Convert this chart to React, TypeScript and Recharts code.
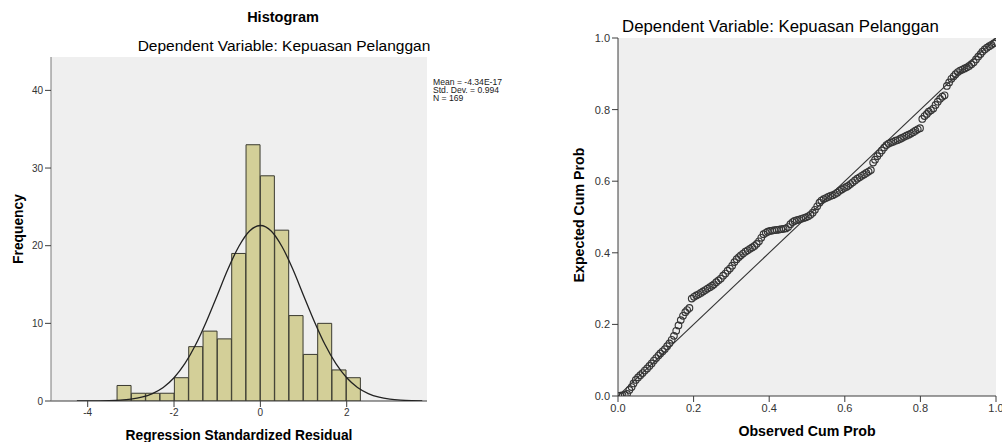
import React from 'react';
import { ComposedChart, Bar, Line, Scatter, XAxis, YAxis, CartesianGrid } from 'recharts';

// ---------- Histogram data ----------
const binCenters = [-3.154, -2.822, -2.49, -2.158, -1.826, -1.494, -1.162, -0.83, -0.498, -0.166, 0.166, 0.498, 0.83, 1.162, 1.494, 1.826, 2.158];
const binCounts = [2, 1, 1, 1, 3, 7, 9, 8, 19, 33, 29, 22, 11, 6, 10, 4, 3];
const curveX = [-4.25, -4, -3.75, -3.5, -3.25, -3, -2.75, -2.5, -2.25, -2, -1.75, -1.5, -1.25, -1, -0.75, -0.5, -0.25, 0, 0.25, 0.5, 0.75, 1, 1.25, 1.5, 1.75, 2, 2.25, 2.5, 2.75, 3, 3.25, 3.5, 3.75];
const curveY = [0.002, 0.007, 0.018, 0.046, 0.11, 0.24, 0.49, 0.96, 1.74, 2.99, 4.8, 7.24, 10.25, 13.6, 17.0, 19.9, 21.9, 22.6, 21.9, 19.9, 17.0, 13.6, 10.25, 7.24, 4.8, 2.99, 1.74, 0.96, 0.49, 0.24, 0.11, 0.046, 0.018];
const histXTicks = [-4, -2, 0, 2];
const histYTicks = [0, 10, 20, 30, 40];
const histXDomain = [-4.85, 3.86];
const histYDomain = [0, 44.3];
const statsLines = ['Mean = -4.34E-17', 'Std. Dev. = 0.994', 'N = 169'];

// ---------- P-P plot data ----------
const observedCumProb = [
  0.006, 0.012, 0.018, 0.024, 0.030, 0.036, 0.041, 0.047, 0.053, 0.059,
  0.065, 0.071, 0.077, 0.083, 0.089, 0.095, 0.101, 0.107, 0.112, 0.118,
  0.124, 0.130, 0.136, 0.142, 0.148, 0.154, 0.160, 0.166, 0.172, 0.178,
  0.183, 0.189, 0.195, 0.201, 0.207, 0.213, 0.219, 0.225, 0.231, 0.237,
  0.243, 0.249, 0.254, 0.260, 0.266, 0.272, 0.278, 0.284, 0.290, 0.296,
  0.302, 0.308, 0.314, 0.320, 0.325, 0.331, 0.337, 0.343, 0.349, 0.355,
  0.361, 0.367, 0.373, 0.379, 0.385, 0.391, 0.396, 0.402, 0.408, 0.414,
  0.420, 0.426, 0.432, 0.438, 0.444, 0.450, 0.456, 0.462, 0.467, 0.473,
  0.479, 0.485, 0.491, 0.497, 0.503, 0.509, 0.515, 0.521, 0.527, 0.533,
  0.538, 0.544, 0.550, 0.556, 0.562, 0.568, 0.574, 0.580, 0.586, 0.592,
  0.598, 0.604, 0.609, 0.615, 0.621, 0.627, 0.633, 0.639, 0.645, 0.651,
  0.657, 0.663, 0.669, 0.675, 0.680, 0.686, 0.692, 0.698, 0.704, 0.710,
  0.716, 0.722, 0.728, 0.734, 0.740, 0.746, 0.751, 0.757, 0.763, 0.769,
  0.775, 0.781, 0.787, 0.793, 0.799, 0.805, 0.811, 0.817, 0.822, 0.828,
  0.834, 0.840, 0.846, 0.852, 0.858, 0.864, 0.870, 0.876, 0.882, 0.888,
  0.893, 0.899, 0.905, 0.911, 0.917, 0.923, 0.929, 0.935, 0.941, 0.947,
  0.953, 0.959, 0.964, 0.970, 0.976, 0.982, 0.988, 0.994, 1.000,
];
const expectedCumProb = [
  0.001, 0.002, 0.003, 0.006, 0.017, 0.025, 0.035, 0.045, 0.052, 0.058,
  0.064, 0.071, 0.077, 0.084, 0.091, 0.099, 0.106, 0.113, 0.119, 0.125,
  0.131, 0.139, 0.147, 0.157, 0.168, 0.182, 0.197, 0.212, 0.224, 0.234,
  0.240, 0.246, 0.272, 0.277, 0.281, 0.284, 0.288, 0.292, 0.296, 0.300,
  0.304, 0.308, 0.312, 0.318, 0.323, 0.328, 0.336, 0.342, 0.350, 0.356,
  0.364, 0.374, 0.382, 0.388, 0.393, 0.398, 0.403, 0.407, 0.411, 0.415,
  0.419, 0.425, 0.432, 0.442, 0.452, 0.456, 0.459, 0.461, 0.462, 0.463,
  0.464, 0.465, 0.466, 0.467, 0.468, 0.472, 0.480, 0.486, 0.489, 0.491,
  0.493, 0.495, 0.497, 0.499, 0.502, 0.506, 0.512, 0.520, 0.530, 0.540,
  0.546, 0.550, 0.553, 0.556, 0.559, 0.561, 0.564, 0.568, 0.573, 0.577,
  0.581, 0.584, 0.587, 0.592, 0.597, 0.602, 0.607, 0.611, 0.615, 0.619,
  0.623, 0.627, 0.631, 0.652, 0.660, 0.670, 0.678, 0.686, 0.694, 0.701,
  0.705, 0.708, 0.710, 0.713, 0.715, 0.718, 0.721, 0.724, 0.727, 0.730,
  0.733, 0.737, 0.741, 0.745, 0.748, 0.774, 0.782, 0.788, 0.794, 0.798,
  0.803, 0.813, 0.822, 0.830, 0.836, 0.840, 0.866, 0.876, 0.886, 0.893,
  0.899, 0.905, 0.909, 0.912, 0.915, 0.918, 0.922, 0.927, 0.932, 0.940,
  0.948, 0.955, 0.962, 0.968, 0.973, 0.977, 0.981, 0.985, 0.989,
];
const ppTicks = [0, 0.2, 0.4, 0.6, 0.8, 1.0];
const diagonalX = [0, 1];
const diagonalY = [0, 1];

const FONT = '"Liberation Sans", Arial, sans-serif';
const BG = '#efefef';
const BAR_FILL = '#d3cf98';
const AXIS_DARK = '#3c3c3c';
const FRAME = '#7a7a7a';

const histData = binCenters.map((x, i) => ({ x, count: binCounts[i] }));
const curveData = curveX.map((x, i) => ({ x, y: curveY[i] }));
const ppData = observedCumProb.map((x, i) => ({ x, y: expectedCumProb[i] }));
const diagData = diagonalX.map((x, i) => ({ x, y: diagonalY[i] }));

const Ring = (props: any) => (
  <circle cx={props.cx} cy={props.cy} r={3.3} fill="none" stroke="#363636" strokeWidth={1.15} />
);

const HIST_MARGIN = { top: 57, right: 73, bottom: 21, left: 0 };

export default function App() {
  return (
    <div style={{ position: 'absolute', left: 0, top: 0, width: 1002, height: 442, overflow: 'hidden', background: '#fff', fontFamily: FONT }}>
      {/* histogram: background, axes and bars */}
      <div style={{ position: 'absolute', left: 0, top: 0 }}>
        <ComposedChart width={500} height={442} data={histData} margin={HIST_MARGIN} barCategoryGap={0} barGap={0}>
          <CartesianGrid fill={BG} stroke="none" horizontal={false} vertical={false} />
          <XAxis
            dataKey="x" type="number" domain={histXDomain} ticks={histXTicks} allowDataOverflow
            height={20} tickSize={6} interval={0}
            tick={{ fontSize: 10, fill: '#333', fontFamily: FONT }}
            tickLine={{ stroke: AXIS_DARK }} axisLine={{ stroke: AXIS_DARK }}
          />
          <XAxis xAxisId="top" orientation="top" type="number" domain={histXDomain} allowDataOverflow height={0} tick={false} tickLine={false} axisLine={{ stroke: FRAME }} />
          <YAxis
            type="number" domain={histYDomain} ticks={histYTicks} allowDataOverflow width={51} tickSize={6} interval={0}
            tick={{ fontSize: 10, fill: '#333', fontFamily: FONT }}
            tickLine={{ stroke: AXIS_DARK }} axisLine={{ stroke: FRAME }}
          />
          <YAxis yAxisId="right" orientation="right" type="number" domain={histYDomain} allowDataOverflow width={0} tick={false} tickLine={false} axisLine={{ stroke: FRAME }} />
          <Bar dataKey="count" fill={BAR_FILL} stroke="#3a3a30" strokeWidth={1} isAnimationActive={false} />
        </ComposedChart>
      </div>
      {/* histogram: fitted normal curve, same geometry */}
      <div style={{ position: 'absolute', left: 0, top: 0 }}>
        <ComposedChart width={500} height={442} data={curveData} margin={HIST_MARGIN}>
          <XAxis dataKey="x" type="number" domain={histXDomain} ticks={histXTicks} allowDataOverflow height={20} tick={false} tickLine={false} axisLine={false} />
          <YAxis type="number" domain={histYDomain} ticks={histYTicks} allowDataOverflow width={51} tick={false} tickLine={false} axisLine={false} />
          <Line dataKey="y" type="monotone" stroke="#222" strokeWidth={1.3} dot={false} isAnimationActive={false} />
        </ComposedChart>
      </div>

      <div style={{ position: 'absolute', left: 510, top: 0 }}>
        <ComposedChart width={492} height={442} data={ppData} margin={{ top: 38, right: 6, bottom: 26, left: 0 }}>
          <CartesianGrid fill={BG} stroke="none" horizontal={false} vertical={false} />
          <XAxis
            dataKey="x" type="number" domain={[0, 1]} ticks={ppTicks} allowDataOverflow
            height={20} tickSize={6} interval={0} tickFormatter={(v: number) => v.toFixed(1)}
            tick={{ fontSize: 11, fill: '#333', fontFamily: FONT }}
            tickLine={{ stroke: AXIS_DARK }} axisLine={{ stroke: AXIS_DARK }}
          />
          <XAxis xAxisId="top" orientation="top" type="number" domain={[0, 1]} allowDataOverflow height={0} tick={false} tickLine={false} axisLine={{ stroke: FRAME }} />
          <YAxis
            dataKey="y" type="number" domain={[0, 1]} ticks={ppTicks} allowDataOverflow width={108} tickSize={6} interval={0}
            tickFormatter={(v: number) => v.toFixed(1)}
            tick={{ fontSize: 11, fill: '#333', fontFamily: FONT }}
            tickLine={{ stroke: AXIS_DARK }} axisLine={{ stroke: AXIS_DARK }}
          />
          <YAxis yAxisId="right" orientation="right" type="number" domain={[0, 1]} allowDataOverflow width={0} tick={false} tickLine={false} axisLine={{ stroke: FRAME }} />
          <Line data={diagData} dataKey="y" type="linear" stroke="#333" strokeWidth={1.1} dot={false} isAnimationActive={false} />
          <Scatter data={ppData} dataKey="y" shape={Ring} isAnimationActive={false} />
        </ComposedChart>
      </div>

      <svg width={1002} height={442} style={{ position: 'absolute', left: 0, top: 0, pointerEvents: 'none' }}>
        <g fontFamily={FONT} fill="#000">
          <text x={283} y={22} textAnchor="middle" fontSize={14.5} fontWeight="bold">Histogram</text>
          <text x={284} y={50.5} textAnchor="middle" fontSize={15.5}>Dependent Variable: Kepuasan Pelanggan</text>
          {statsLines.map((s, i) => (
            <text key={s} x={433} y={84.5 + i * 8.2} fontSize={8.6} fill="#1a1a1a">{s}</text>
          ))}
          <text x={239} y={440} textAnchor="middle" fontSize={13.8} fontWeight="bold">Regression Standardized Residual</text>
          <text x={0} y={0} transform="translate(23,229) rotate(-90)" textAnchor="middle" fontSize={13.8} fontWeight="bold">Frequency</text>

          <text x={780.5} y={32} textAnchor="middle" fontSize={16.8}>Dependent Variable: Kepuasan Pelanggan</text>
          <text x={807} y={436} textAnchor="middle" fontSize={14.2} fontWeight="bold">Observed Cum Prob</text>
          <text x={0} y={0} transform="translate(584,215) rotate(-90)" textAnchor="middle" fontSize={14.2} fontWeight="bold">Expected Cum Prob</text>
        </g>
      </svg>
    </div>
  );
}
